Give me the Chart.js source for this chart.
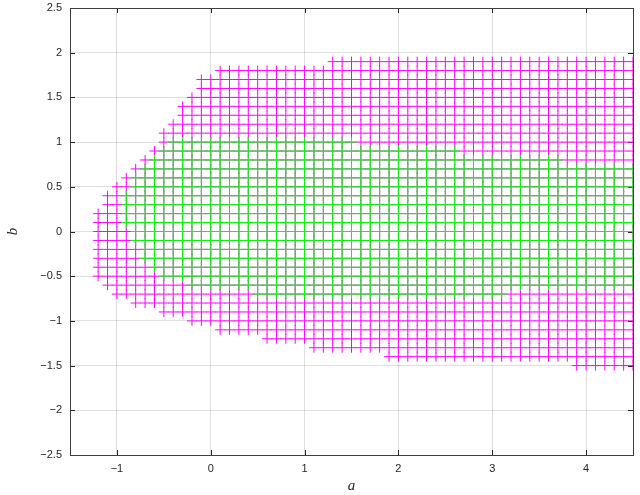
<!DOCTYPE html>
<html><head><meta charset="utf-8">
<script src="https://cdn.jsdelivr.net/npm/chart.js@4.4.1/dist/chart.umd.min.js"></script>
<style>html,body{margin:0;padding:0;background:#fff;}canvas{display:block;}</style>
</head><body>
<canvas id="c" width="640" height="495"></canvas>
<script>
// Columns of a (grid step 0.1)
const aCols = [-1.2,-1.1,-1.0,-0.9,-0.8,-0.7,-0.6,-0.5,-0.4,-0.3,-0.2,-0.1,0.0,
  0.1,0.2,0.3,0.4,0.5,0.6,0.7,0.8,0.9,1.0,1.1,1.2,1.3,1.4,1.5,1.6,1.7,1.8,1.9,2.0,
  2.1,2.2,2.3,2.4,2.5,2.6,2.7,2.8,2.9,3.0,3.1,3.2,3.3,3.4,3.5,3.6,3.7,3.8,3.9,4.0,
  4.1,4.2,4.3,4.4,4.5];
// Magenta region: highest and lowest b for each column
const magentaTop = [0.2,0.4,0.5,0.6,0.7,0.8,0.9,1.1,1.2,1.4,1.5,1.7,1.7,
  1.8,1.8,1.8,1.8,1.8,1.8,1.8,1.8,1.8,1.8,1.8,1.8,1.9,1.9,1.9,1.9,1.9,1.9,1.9,1.9,
  1.9,1.9,1.9,1.9,1.9,1.9,1.9,1.9,1.9,1.9,1.9,1.9,1.9,1.9,1.9,1.9,1.9,1.9,1.9,1.9,
  1.9,1.9,1.9,1.9,1.9];
const magentaBottom = [-0.5,-0.6,-0.7,-0.7,-0.8,-0.8,-0.8,-0.9,-0.9,-0.9,-1.0,-1.0,-1.0,
  -1.1,-1.1,-1.1,-1.1,-1.1,-1.2,-1.2,-1.2,-1.2,-1.2,-1.3,-1.3,-1.3,-1.3,-1.3,-1.3,-1.3,-1.3,-1.4,-1.4,
  -1.4,-1.4,-1.4,-1.4,-1.4,-1.4,-1.4,-1.4,-1.4,-1.4,-1.4,-1.4,-1.4,-1.4,-1.4,-1.4,-1.4,-1.4,-1.5,-1.5,
  -1.5,-1.5,-1.5,-1.5,-1.5];
// Green region: highest and lowest b for each column (null = none)
const greenTop = [null,null,null,0.4,0.6,0.7,0.8,0.9,1.0,1.0,1.0,1.0,1.0,
  1.0,1.0,1.0,1.0,1.0,1.0,1.0,1.0,1.0,1.0,1.0,1.0,1.0,1.0,1.0,0.9,0.9,0.9,0.9,0.9,
  0.9,0.9,0.9,0.9,0.9,0.9,0.8,0.8,0.8,0.8,0.8,0.8,0.8,0.8,0.8,0.8,0.8,0.7,0.7,0.7,
  0.7,0.7,0.7,0.7,0.7];
const greenBottom = [null,null,null,0.1,-0.1,-0.3,-0.4,-0.5,-0.5,-0.5,-0.6,-0.6,-0.6,
  -0.6,-0.6,-0.6,-0.6,-0.7,-0.7,-0.7,-0.7,-0.7,-0.7,-0.7,-0.7,-0.7,-0.7,-0.7,-0.7,-0.7,-0.7,-0.7,-0.7,
  -0.7,-0.7,-0.7,-0.7,-0.7,-0.7,-0.7,-0.7,-0.7,-0.7,-0.7,-0.6,-0.6,-0.6,-0.6,-0.6,-0.6,-0.6,-0.6,-0.6,
  -0.6,-0.6,-0.6,-0.6,-0.6];
const xTicks = [-1,0,1,2,3,4];
const yTicks = [-2.5,-2,-1.5,-1,-0.5,0,0.5,1,1.5,2,2.5];
const xRange = [-1.5,4.5];
const yRange = [-2.5,2.5];

function columnPoints(tops, bottoms){
  const pts = [];
  aCols.forEach((a,i)=>{
    if (tops[i]===null) return;
    const k0 = Math.round(bottoms[i]*10), k1 = Math.round(tops[i]*10);
    for (let k=k0;k<=k1;k++) pts.push({x:a, y:k/10});
  });
  return pts;
}
const magentaPts = columnPoints(magentaTop, magentaBottom);
const greenPts = columnPoints(greenTop, greenBottom);

const AX = '#262626';
const boxPlugin = {
  id:'box',
  beforeDatasetsDraw(chart){
    const {ctx, chartArea:ca, scales} = chart;
    ctx.save();
    ctx.strokeStyle = AX; ctx.lineWidth = 1;
    ctx.beginPath();
    const tl = 5;
    xTicks.forEach(v=>{
      const x = Math.round(scales.x.getPixelForValue(v))+0.5;
      ctx.moveTo(x, ca.bottom); ctx.lineTo(x, ca.bottom - tl);
      ctx.moveTo(x, ca.top); ctx.lineTo(x, ca.top + tl);
    });
    yTicks.forEach(v=>{
      const y = Math.round(scales.y.getPixelForValue(v))+0.5;
      ctx.moveTo(ca.left, y); ctx.lineTo(ca.left + tl, y);
      ctx.moveTo(ca.right, y); ctx.lineTo(ca.right - tl, y);
    });
    ctx.stroke();
    ctx.strokeStyle = '#404040';
    ctx.strokeRect(Math.round(ca.left)+0.5, Math.round(ca.top)+0.5,
      Math.round(ca.right-ca.left), Math.round(ca.bottom-ca.top));
    ctx.restore();
  }
};
const minus = v => String(v).replace('-', '\u2212');
new Chart(document.getElementById('c'), {
  type:'scatter',
  data:{datasets:[
    {data:greenPts, pointStyle:'cross', pointRadius:5, borderColor:'#00ff00', backgroundColor:'#00ff00', pointBorderWidth:1, clip:0},
    {data:magentaPts, pointStyle:'cross', pointRadius:5, borderColor:'#ff00ff', backgroundColor:'#ff00ff', pointBorderWidth:1, clip:0}
  ]},
  options:{
    responsive:false, animation:false, events:[],
    layout:{padding:{left:0,right:7,top:8,bottom:0}},
    plugins:{legend:{display:false}, tooltip:{enabled:false}},
    scales:{
      x:{type:'linear', min:xRange[0], max:xRange[1],
        afterBuildTicks(s){ s.ticks = xTicks.map(v=>({value:v})); },
        afterFit(s){ s.height = 40; s.paddingLeft = 0; s.paddingRight = 0; },
        grid:{color:'rgba(38,38,38,0.15)', drawTicks:false},
        border:{display:false},
        ticks:{padding:7, color:AX, font:{family:'"Liberation Sans", Arial', size:11}, callback:v=>minus(v), maxRotation:0},
        title:{display:true, text:'a', color:AX, font:{family:'"Liberation Serif", serif', size:15, style:'italic'}, padding:{top:-2,bottom:0}}
      },
      y:{type:'linear', min:yRange[0], max:yRange[1],
        afterBuildTicks(s){ s.ticks = yTicks.map(v=>({value:v})); },
        afterFit(s){ s.width = 70; s.paddingTop = 0; s.paddingBottom = 0; },
        grid:{color:'rgba(38,38,38,0.15)', drawTicks:false},
        border:{display:false},
        ticks:{padding:8, color:AX, font:{family:'"Liberation Sans", Arial', size:11}, callback:v=>minus(v)},
        title:{display:true, text:'b', color:AX, font:{family:'"Liberation Serif", serif', size:15, style:'italic'}, padding:{top:4,bottom:0}}
      }
    }
  },
  plugins:[boxPlugin]
});
</script>
</body></html>
